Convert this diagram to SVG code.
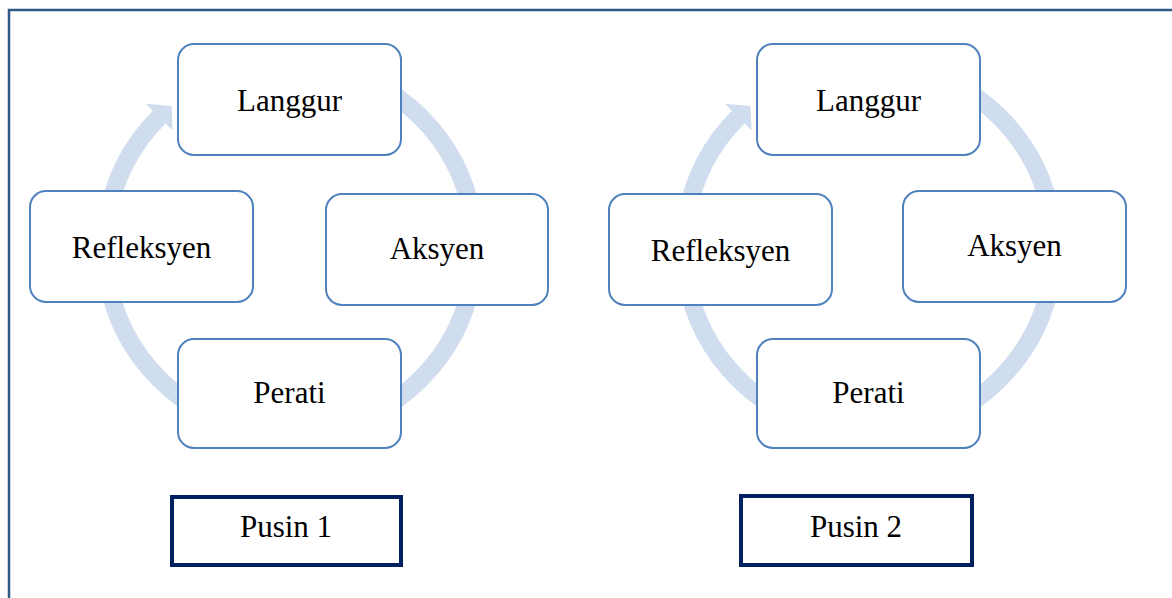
<svg xmlns="http://www.w3.org/2000/svg" width="1172" height="598" viewBox="0 0 1172 598">
<style>
.frame{fill:none;stroke:#2e5a88;stroke-width:2.5}
.ring{fill:none;stroke:#d0ddef;stroke-width:18}
.head{fill:#d0ddef}
.node rect{fill:#fff;stroke:#4f81bd;stroke-width:2}
.lbl rect{fill:#fff;stroke:#002060;stroke-width:4}
text{font-family:"Liberation Serif","Times New Roman",serif;font-size:31px;fill:#000;text-anchor:middle}
</style>
<rect width="1172" height="598" fill="#fff"/>
<path class="frame" d="M9 600 V10 H1175"/>
<g id="connectors">
  <path class="ring" d="M107.8 215.9 A185 185 0 0 1 159.2 117.2"/>
  <polygon class="head" points="145.8,103.8 171.5,106 172.6,130.6"/>
  <path class="ring" d="M322.1 65.8 A185 185 0 0 1 472.2 215.9"/>
  <path class="ring" d="M472.2 280.1 A185 185 0 0 1 322.1 430.2"/>
  <path class="ring" d="M257.9 430.2 A185 185 0 0 1 107.8 280.1"/>
  <path class="ring" d="M686.8 215.9 A185 185 0 0 1 738.2 117.2"/>
  <polygon class="head" points="724.8,103.8 750.5,106 751.6,130.6"/>
  <path class="ring" d="M901.1 65.8 A185 185 0 0 1 1051.2 215.9"/>
  <path class="ring" d="M1051.2 280.1 A185 185 0 0 1 901.1 430.2"/>
  <path class="ring" d="M836.9 430.2 A185 185 0 0 1 686.8 280.1"/>
</g>
<g id="c1-langgur" class="node"><rect x="178" y="44" width="223" height="111" rx="16"/><text x="289.5" y="111">Langgur</text></g>
<g id="c1-refleksyen" class="node"><rect x="30" y="191" width="223" height="111" rx="16"/><text x="141.5" y="258">Refleksyen</text></g>
<g id="c1-aksyen" class="node"><rect x="326" y="194" width="222" height="111" rx="16"/><text x="437" y="259">Aksyen</text></g>
<g id="c1-perati" class="node"><rect x="178" y="339" width="223" height="109" rx="16"/><text x="289.5" y="403">Perati</text></g>
<g id="c2-langgur" class="node"><rect x="757" y="44" width="223" height="111" rx="16"/><text x="868.5" y="111">Langgur</text></g>
<g id="c2-refleksyen" class="node"><rect x="609" y="194" width="223" height="111" rx="16"/><text x="720.5" y="261">Refleksyen</text></g>
<g id="c2-aksyen" class="node"><rect x="903" y="191" width="223" height="111" rx="16"/><text x="1014.5" y="256">Aksyen</text></g>
<g id="c2-perati" class="node"><rect x="757" y="339" width="223" height="109" rx="16"/><text x="868.5" y="403">Perati</text></g>
<g id="pusin1" class="lbl"><rect x="172" y="497" width="229" height="68"/><text x="286" y="537">Pusin 1</text></g>
<g id="pusin2" class="lbl"><rect x="741" y="496" width="231" height="69"/><text x="856" y="537">Pusin 2</text></g>
</svg>
